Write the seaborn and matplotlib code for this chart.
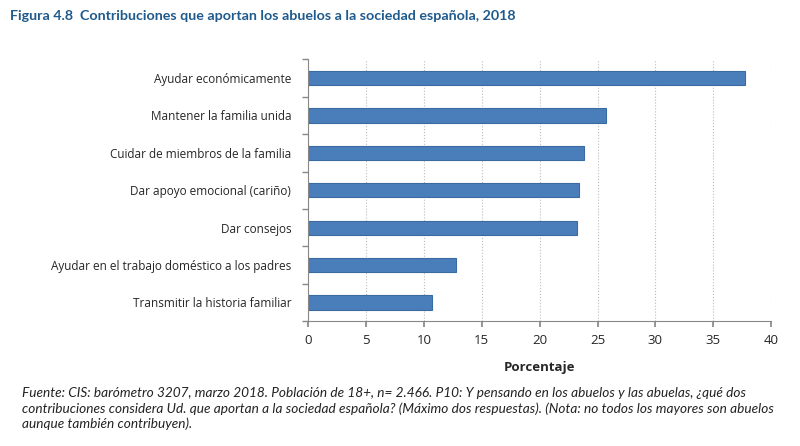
import numpy as np
import pandas as pd
import matplotlib.pyplot as plt
import seaborn as sns
from matplotlib.ticker import FixedLocator

sns.set_theme(style="white")
plt.rcParams['font.family'] = ['Open Sans', 'DejaVu Sans']

# Datos
categorias = ['Ayudar económicamente', 'Mantener la familia unida',
              'Cuidar de miembros de la familia', 'Dar apoyo emocional (cariño)',
              'Dar consejos', 'Ayudar en el trabajo doméstico a los padres',
              'Transmitir la historia familiar']
porcentajes = [37.7, 25.7, 23.8, 23.4, 23.2, 12.8, 10.7]
ticks_x = [0, 5, 10, 15, 20, 25, 30, 35, 40]

df = pd.DataFrame({'categoria': categorias, 'pct': porcentajes})

fig = plt.figure(figsize=(8, 4.46), dpi=100)
ax = fig.add_axes([0.385, 0.28, 0.579, 0.587])

sns.barplot(x='pct', y='categoria', data=df, orient='h', color='#4A7EBB',
            saturation=1, edgecolor='#3A6AA0', linewidth=0.8, width=0.38, ax=ax)

ax.set_xlim(0, 40)
ax.set_ylim(len(categorias) - 0.5, -0.5)
ax.set_xticks(ticks_x)
ax.xaxis.grid(True, linestyle=':', color='#BBBBBB', linewidth=0.8)
ax.set_axisbelow(True)

for s in ['top', 'right']:
    ax.spines[s].set_visible(False)
for s in ['left', 'bottom']:
    ax.spines[s].set_color('#888888')
    ax.spines[s].set_linewidth(0.8)

ax.tick_params(axis='x', length=4, color='#888888', labelsize=9.5, pad=5, bottom=True)
ax.tick_params(axis='y', which='major', length=0, labelsize=8.5, pad=12)
ax.yaxis.set_minor_locator(FixedLocator(np.arange(-0.5, len(categorias), 1)))
ax.tick_params(axis='y', which='minor', length=4, color='#888888', left=True)

ax.set_ylabel('')
ax.set_xlabel('Porcentaje', fontsize=9.5, fontweight='bold', labelpad=10)

fig.text(0.012, 0.965, 'Figura 4.8  Contribuciones que aportan los abuelos a la sociedad española, 2018',
         fontsize=10.3, fontweight='bold', color='#1F5A8C', va='center',
         family=['Lato', 'DejaVu Sans'])

nota = ('Fuente: CIS: barómetro 3207, marzo 2018. Población de 18+, n= 2.466. P10: Y pensando en los abuelos y las abuelas, ¿qué dos\n'
        'contribuciones considera Ud. que aportan a la sociedad española? (Máximo dos respuestas). (Nota: no todos los mayores son abuelos\n'
        'aunque también contribuyen).')
fig.text(0.027, 0.132, nota, fontsize=9.8, style='italic', color='#222222',
         va='top', linespacing=1.28,
         family=['Lato', 'DejaVu Sans'])

fig.savefig('out.png', dpi=100)
